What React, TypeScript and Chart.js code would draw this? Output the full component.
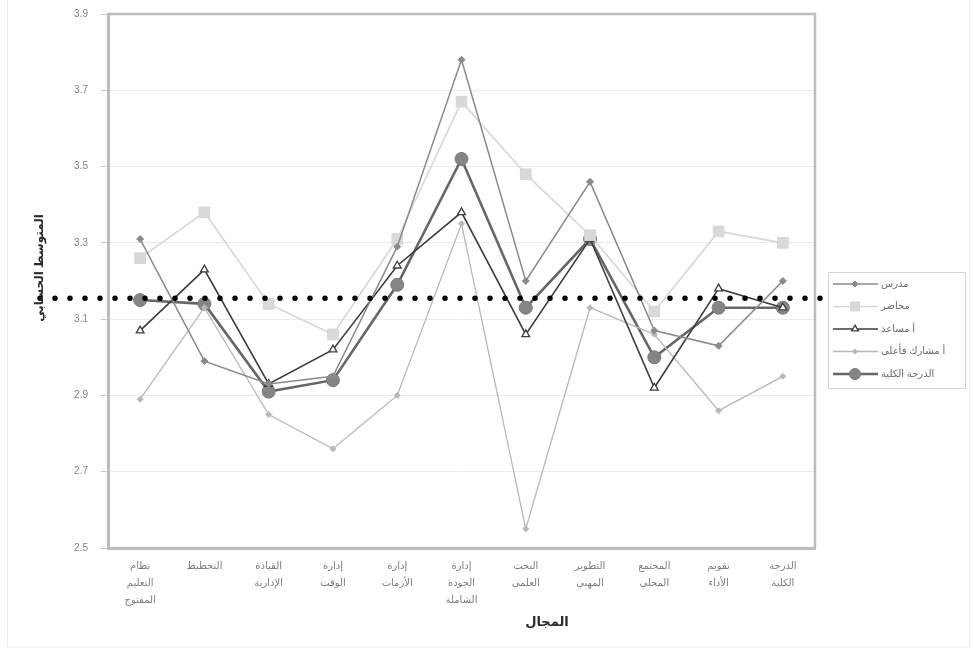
import React, { useEffect, useRef } from "react";
import { Chart, registerables } from "chart.js";

Chart.register(...registerables);

const CATEGORIES: string[][] = [
  ["نظام", "التعليم", "المفتوح"],
  ["التخطيط"],
  ["القيادة", "الإدارية"],
  ["إدارة", "الوقت"],
  ["إدارة", "الأزمات"],
  ["إدارة", "الجودة", "الشاملة"],
  ["البحث", "العلمي"],
  ["التطوير", "المهني"],
  ["المجتمع", "المحلي"],
  ["تقويم", "الأداء"],
  ["الدرجة", "الكلية"],
];

const SERIES_NAMES = ["مدرس", "محاضر", "أ مساعد", "أ مشارك فأعلى", "الدرجة الكلية"];

const TEACHER = [3.31, 2.99, 2.93, 2.95, 3.29, 3.78, 3.2, 3.46, 3.07, 3.03, 3.2];
const LECTURER = [3.26, 3.38, 3.14, 3.06, 3.31, 3.67, 3.48, 3.32, 3.12, 3.33, 3.3];
const ASSISTANT_PROF = [3.07, 3.23, 2.93, 3.02, 3.24, 3.38, 3.06, 3.31, 2.92, 3.18, 3.13];
const ASSOCIATE_PLUS = [2.89, 3.13, 2.85, 2.76, 2.9, 3.35, 2.55, 3.13, 3.06, 2.86, 2.95];
const OVERALL = [3.15, 3.14, 2.91, 2.94, 3.19, 3.52, 3.13, 3.31, 3.0, 3.13, 3.13];

const REFERENCE_MEAN = 3.155;
const Y_TICKS = [2.5, 2.7, 2.9, 3.1, 3.3, 3.5, 3.7, 3.9];

const X_TITLE = "المجال";
const Y_TITLE = "المتوسط الحسابي";

const FONT = "'Liberation Sans', 'DejaVu Sans', Arial, sans-serif";

export default function App() {
  const ref = useRef<HTMLCanvasElement | null>(null);

  useEffect(() => {
    if (!ref.current) return;

    const styles = [
      { color: "#8a8a8a", bg: "#8a8a8a", width: 1.5, style: "rectRot", radius: 3.5 },
      { color: "#d6d6d6", bg: "#d9d9d9", width: 1.6, style: "rect", radius: 7.5 },
      { color: "#3c3c3c", bg: "#ffffff", width: 1.6, style: "triangle", radius: 4.5 },
      { color: "#b8b8b8", bg: "#b8b8b8", width: 1.3, style: "rectRot", radius: 3 },
      { color: "#666666", bg: "#858585", width: 2.6, style: "circle", radius: 6.5 },
    ];
    const values = [TEACHER, LECTURER, ASSISTANT_PROF, ASSOCIATE_PLUS, OVERALL];

    const datasets = values.map((d, i) => ({
      label: SERIES_NAMES[i],
      data: d,
      borderColor: styles[i].color,
      backgroundColor: styles[i].bg,
      borderWidth: styles[i].width,
      pointStyle: styles[i].style as any,
      pointRadius: styles[i].radius,
      pointBackgroundColor: styles[i].bg,
      pointBorderColor: i === 4 ? "#7a7a7a" : styles[i].color,
      pointBorderWidth: i === 2 ? 1.3 : 1,
      tension: 0,
      fill: false,
    }));

    function drawPointSafe(ctx: CanvasRenderingContext2D, style: string, r: number, x: number, y: number) {
      ctx.beginPath();
      if (style === "circle") {
        ctx.arc(x, y, r, 0, Math.PI * 2);
      } else if (style === "rect") {
        const h = r * Math.SQRT1_2;
        ctx.rect(x - h, y - h, 2 * h, 2 * h);
      } else if (style === "rectRot") {
        ctx.moveTo(x, y - r);
        ctx.lineTo(x + r, y);
        ctx.lineTo(x, y + r);
        ctx.lineTo(x - r, y);
        ctx.closePath();
      } else if (style === "triangle") {
        ctx.moveTo(x, y - r);
        ctx.lineTo(x + r * 0.87, y + r * 0.5);
        ctx.lineTo(x - r * 0.87, y + r * 0.5);
        ctx.closePath();
      }
      ctx.fill();
      ctx.stroke();
    }

    const overlay = {
      id: "overlay",
      afterDatasetsDraw(chart: any) {
        const { ctx, chartArea, scales } = chart;
        ctx.save();
        ctx.strokeStyle = "#bdbdbd";
        ctx.lineWidth = 2.5;
        ctx.beginPath();
        ctx.moveTo(chartArea.left, chartArea.top);
        ctx.lineTo(chartArea.right, chartArea.top);
        ctx.lineTo(chartArea.right, chartArea.bottom);
        ctx.stroke();
        ctx.restore();

        const y = scales.y.getPixelForValue(REFERENCE_MEAN);
        ctx.save();
        ctx.strokeStyle = "#000000";
        ctx.lineWidth = 5.5;
        ctx.lineCap = "round";
        ctx.setLineDash([0, 15]);
        ctx.beginPath();
        ctx.moveTo(chartArea.left - 68, y);
        ctx.lineTo(chartArea.right + 13, y);
        ctx.stroke();
        ctx.restore();
      },
      afterDraw(chart: any) {
        const { ctx, chartArea } = chart;
        ctx.save();
        ctx.strokeStyle = "#ededed";
        ctx.lineWidth = 1;
        ctx.strokeRect(7.5, -2, 962, 649);
        ctx.restore();

        ctx.save();
        ctx.fillStyle = "#2a2a2a";
        ctx.font = `bold 13px ${FONT}`;
        ctx.textAlign = "center";
        ctx.textBaseline = "middle";
        ctx.fillText(X_TITLE, 547, 622);
        ctx.translate(40, 268);
        ctx.rotate(-Math.PI / 2);
        ctx.font = `bold 12px ${FONT}`;
        ctx.fillText(Y_TITLE, 0, 0);
        ctx.restore();

        const lx = chartArea.right + 13;
        const ly = 272;
        const lw = 137;
        const lh = 116;
        ctx.save();
        ctx.fillStyle = "#ffffff";
        ctx.fillRect(lx, ly, lw, lh);
        ctx.strokeStyle = "#d4d4d4";
        ctx.lineWidth = 1;
        ctx.strokeRect(lx + 0.5, ly + 0.5, lw, lh);
        SERIES_NAMES.forEach((name, i) => {
          const s = styles[i];
          const yy = ly + 12 + i * 22.5;
          ctx.strokeStyle = s.color;
          ctx.lineWidth = s.width;
          ctx.beginPath();
          ctx.moveTo(lx + 5, yy);
          ctx.lineTo(lx + 50, yy);
          ctx.stroke();
          ctx.fillStyle = s.bg;
          ctx.strokeStyle = i === 4 ? "#7a7a7a" : s.color;
          ctx.lineWidth = i === 2 ? 1.3 : 1;
          drawPointSafe(ctx, s.style, s.radius * 0.85, lx + 27, yy);
          ctx.fillStyle = "#6a6a6a";
          ctx.font = `10px ${FONT}`;
          ctx.textAlign = "left";
          ctx.textBaseline = "middle";
          ctx.fillText(name, lx + 53, yy);
        });
        ctx.restore();
      },
    };

    const chart = new Chart(ref.current, {
      type: "line",
      data: { labels: CATEGORIES as any, datasets: datasets as any },
      options: {
        animation: false,
        responsive: false,
        maintainAspectRatio: false,
        layout: { padding: { top: 14, right: 158, bottom: 0, left: 0 } },
        plugins: { legend: { display: false }, tooltip: { enabled: false } },
        scales: {
          x: {
            offset: true,
            grid: { display: false, drawTicks: false },
            border: { display: true, color: "#bdbdbd", width: 3 },
            ticks: {
              color: "#7c7c7c",
              font: { size: 10, family: FONT, lineHeight: 1.7 },
              padding: 10,
              maxRotation: 0,
              autoSkip: false,
            },
            afterFit: (s: any) => {
              s.height = 100;
              s.paddingLeft = 0;
              s.paddingRight = 0;
            },
          },
          y: {
            min: Y_TICKS[0],
            max: Y_TICKS[Y_TICKS.length - 1],
            afterBuildTicks: (s: any) => {
              s.ticks = Y_TICKS.map((v) => ({ value: v }));
            },
            ticks: {
              color: "#808080",
              font: { size: 10, family: FONT },
              padding: 13,
              callback: (v: any) => Number(v).toFixed(1),
            },
            grid: { color: "#ebebeb", tickColor: "#c8c8c8", tickLength: 7, lineWidth: 1 },
            border: { display: true, color: "#bdbdbd", width: 3 },
            afterFit: (s: any) => {
              s.width = 108;
              s.paddingTop = 0;
              s.paddingBottom = 0;
            },
          },
        },
      },
      plugins: [overlay],
    });

    return () => chart.destroy();
  }, []);

  return (
    <div style={{ position: "absolute", left: 0, top: 0, width: 973, height: 648, background: "#fff" }}>
      <canvas ref={ref} width={973} height={648} style={{ display: "block", width: 973, height: 648 }} />
    </div>
  );
}
